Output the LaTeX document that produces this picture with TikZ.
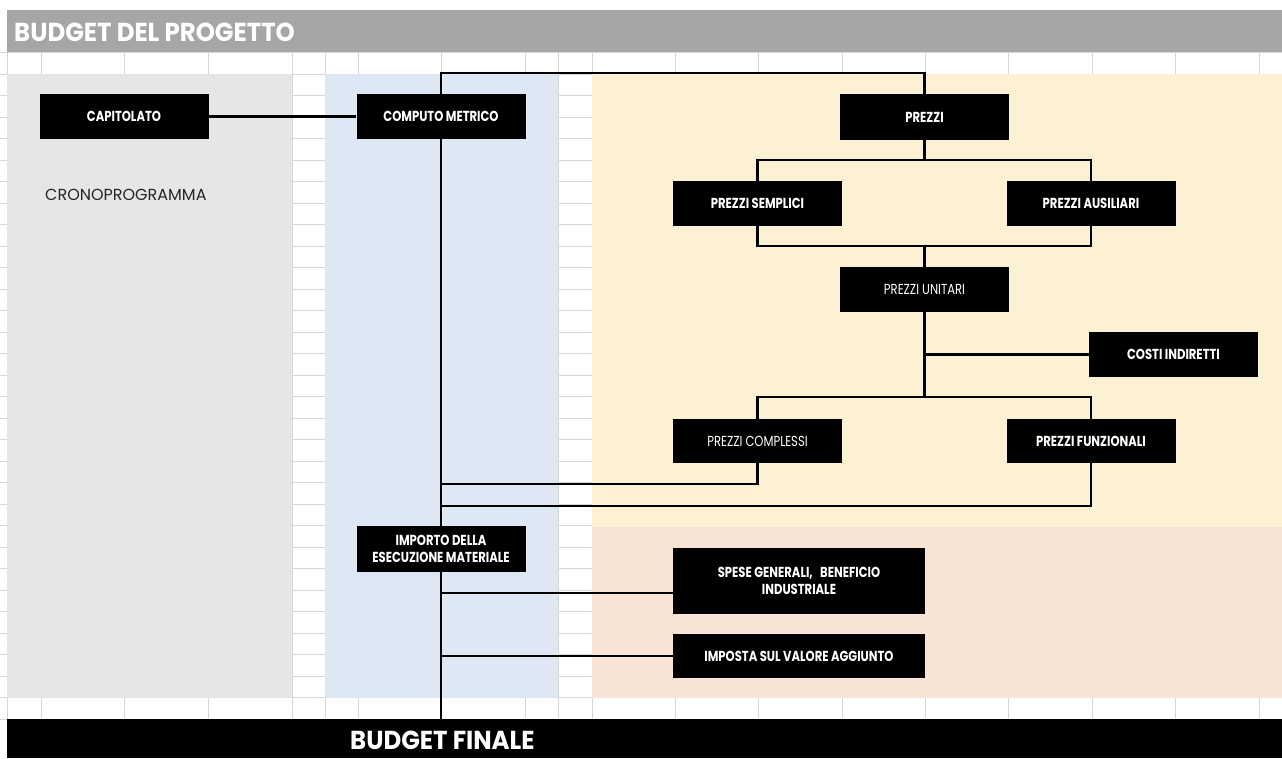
\documentclass[tikz,border=0pt]{standalone}
\usepackage{fontspec}
\setmainfont{Poppins}
\newfontfamily\boxfont[FakeStretch=0.8]{Poppins}
\newfontfamily\headfont[FakeStretch=0.94]{Poppins}
\usetikzlibrary{arrows,positioning,shapes}

\definecolor{headgray}{HTML}{A6A6A6}
\definecolor{gridgray}{HTML}{D6D6D6}
\definecolor{leftgray}{HTML}{E7E5E6}
\definecolor{midblue}{HTML}{DEE8F5}
\definecolor{cream}{HTML}{FDF1D3}
\definecolor{peach}{HTML}{F8E4D6}
\definecolor{darktext}{HTML}{262626}

\begin{document}
\begin{tikzpicture}[x=1pt,y=-1pt]

    \tikzstyle{box} = [fill=black, text=white, inner sep=0pt,
    minimum width=169pt, minimum height=45pt, align=center,
    font=\boxfont\bfseries\fontsize{14.5}{17}\selectfont]

    \tikzstyle{lbox} = [box, font=\boxfont\fontsize{14.5}{17}\selectfont]

    \tikzstyle{title} = [anchor=base west, inner sep=0pt, text=white,
    font=\headfont\bfseries\fontsize{26}{30}\selectfont]

    \tikzstyle{wire} = [line width=2.4pt]

    \tikzstyle{grid} = [draw=gridgray, line width=1pt]

    \useasboundingbox (0,0) rectangle (1282,758);

    % sheet
    \foreach \r in {0,...,29}
      \draw[grid] (0,{74+21.5*\r}) -- (1282,{74+21.5*\r});
    \draw[grid] (0,52) -- (1282,52) (0,719) -- (1282,719);
    \foreach \c in {7,41,124,208,292,325,358,441,525,558,592,675,758,842,925,1008,1092,1175,1259}
      \draw[grid] (\c,52) -- (\c,74) (\c,698) -- (\c,719);
    \foreach \c in {292,325,558,592}
      \draw[grid] (\c,74) -- (\c,698);

    \fill[headgray] (7,10) rectangle (1282,52);
    \fill[leftgray] (7,74) rectangle (292,698);
    \fill[midblue] (325,74) rectangle (558,698);
    \fill[cream] (592,74) rectangle (1282,527);
    \fill[peach] (592,527) rectangle (1282,698);

    \node [fill=black, inner sep=0pt, minimum width=1275pt,
    minimum height=39pt] (foot) at (644.5,738.5) {};

    \draw
    (14,41) node [title] (head) {BUDGET DEL PROGETTO}
    (350,749) node [title] (final) {BUDGET FINALE}
    (45,200) node [anchor=base west, inner sep=0pt, text=darktext,
    font=\fontsize{16}{18}\selectfont] (crono) {CRONOPROGRAMMA}
    (124,116.5) node [box] (CA) {CAPITOLATO}
    (441,116.5) node [box] (CM) {COMPUTO METRICO}
    (924.5,117) node [box, minimum height=46pt] (P) {PREZZI}
    (757.5,203.5) node [box] (PS) {PREZZI SEMPLICI}
    (1091,203.5) node [box] (PA) {PREZZI AUSILIARI}
    (924.5,289.5) node [lbox] (PU) {PREZZI UNITARI}
    (1173.5,354.5) node [box] (CI) {COSTI INDIRETTI}
    (757.5,441) node [lbox, minimum height=44pt] (PC) {PREZZI COMPLESSI}
    (1091,441) node [box, minimum height=44pt] (PF) {PREZZI FUNZIONALI}
    (441,549) node [box, minimum height=46pt] (IE) {IMPORTO DELLA\\ESECUZIONE MATERIALE}
    (799,581) node [box, minimum width=252pt, minimum height=66pt] (SG) {SPESE GENERALI,\ \ \ BENEFICIO\\INDUSTRIALE}
    (799,656) node [box, minimum width=252pt, minimum height=44pt] (IVA) {IMPOSTA SUL VALORE AGGIUNTO}
    ;

    \draw[wire] (CA) -- (CM);
    \draw[wire] (CM.north) -- ++(0,-21) -| (P.north);
    \draw[wire] (CM.south) -- (IE.north);
    \draw[wire] (IE.south) -- (IE.south |- foot.north);
    \draw[wire] (P.south) -- ++(0,20) -| (PS.north);
    \draw[wire] (P.south) -- ++(0,20) -| (PA.north);
    \draw[wire] (PS.south) -- ++(0,20) -| (PU.north);
    \draw[wire] (PA.south) -- ++(0,20) -| (PU.north);
    \draw[wire] (PU.south) |- (CI.west);
    \draw[wire] (PU.south) -- ++(0,85) -| (PC.north);
    \draw[wire] (PU.south) -- ++(0,85) -| (PF.north);
    \draw[wire] (PC.south) -- ++(0,21) -| (IE.north);
    \draw[wire] (PF.south) -- ++(0,43) -| (IE.north);
    \draw[wire] ([yshift=-12pt]SG.west) -| (IE.south);
    \draw[wire] (IVA.west) -| (IE.south);
  \end{tikzpicture}
\end{document}
